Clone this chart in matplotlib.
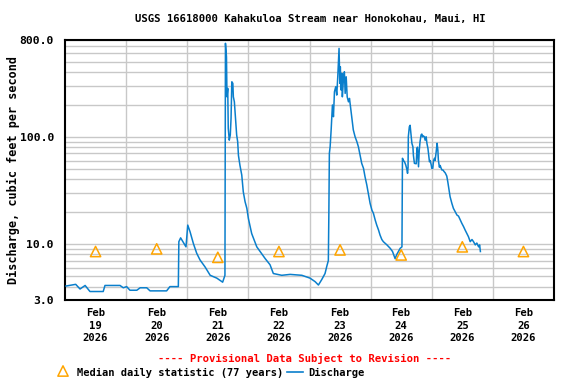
import numpy as np
import matplotlib
matplotlib.use("Agg")
import matplotlib.pyplot as plt
from matplotlib.ticker import FixedLocator, LogLocator, NullFormatter, FixedFormatter

# ---------------- data ----------------
title = "USGS 16618000 Kahakuloa Stream near Honokohau, Maui, HI"
ylabel = "Discharge, cubic feet per second"

# discharge: hours since 2026-02-19 00:00, cfs
hours = [0.4, 4.2, 5.9, 7.9, 9.8, 15.0, 15.7, 21.6, 22.9, 24.2, 25.5, 28.2, 29.5, 32.1,
         33.4, 39.9, 41.2, 43.9, 44.5, 44.7, 45.4, 47.5, 48.2, 49.1, 50.4, 51.7, 53.0,
         55.0, 57.0, 59.6, 61.9, 62.8, 63.0,
         63.4, 63.6, 63.9, 64.1, 64.5, 64.9, 65.2, 65.5, 65.9, 66.1, 66.5, 67.1, 67.4,
         67.8, 68.1, 68.7, 69.4, 70.0, 70.7, 71.4, 72.0, 72.7, 73.3, 74.0, 75.3, 76.6,
         78.6, 80.5, 81.8, 85.1, 88.4, 93.0, 96.2, 98.2, 99.5, 100.8, 102.1, 102.8, 103.4,
         103.6, 103.8, 104.1, 104.5, 105.0, 105.4, 105.8, 106.3, 106.7, 107.1, 107.4,
         107.6, 107.9, 108.1, 108.4, 108.7, 108.9, 109.3, 109.7, 110.0, 110.4, 110.8,
         111.3, 111.7, 112.1, 112.6, 113.2, 113.9, 114.6, 115.2, 115.9, 116.5, 117.2,
         117.8, 118.5, 119.1, 119.8, 120.5, 121.1, 121.8, 122.4, 123.1, 123.7, 124.4,
         125.0, 126.4, 127.7, 128.6, 129.6, 130.3, 130.9, 131.6, 132.3,
         132.5, 132.9, 133.3, 133.8, 134.2, 134.5, 134.7, 134.8, 135.2, 135.5, 135.8,
         136.2, 136.6, 136.8, 137.2, 137.9, 138.2, 138.4, 138.8, 139.1, 139.4, 139.8,
         140.1, 140.4, 140.7, 141.1, 141.4, 141.8, 142.1, 142.5, 142.7, 143.1, 143.4,
         143.8, 144.0, 144.4, 144.7, 145.1, 145.3, 145.7, 146.1, 146.4, 146.6, 147.0,
         147.3, 147.7, 148.0, 148.4, 148.8, 149.3, 149.7, 149.9, 150.3, 150.8, 151.2,
         151.9, 152.5, 153.2, 153.9, 154.5, 155.2, 155.8, 156.5, 157.1, 157.8, 158.4,
         159.1, 159.8, 160.4, 161.1, 161.7, 162.4, 162.8, 163.1]
discharge = [4.05, 4.2, 3.8, 4.1, 3.6, 3.6, 4.1, 4.1, 3.9, 4.0, 3.7, 3.7, 3.9, 3.9,
             3.65, 3.65, 4.0, 4.0, 4.0, 10.5, 11.4, 9.4, 15.0, 13.0, 10.1, 8.2, 7.1,
             6.1, 5.1, 4.8, 4.4, 5.1, 745,
             558, 236, 283, 120, 93, 104, 149, 326, 315, 236, 212, 133, 104,
             90, 67, 54, 44, 30.7, 24.8, 21.5, 17.3, 14.5, 12.5, 11.3, 9.4, 8.5,
             7.3, 6.4, 5.3, 5.1, 5.2, 5.1, 4.8, 4.45, 4.14, 4.65, 5.3, 6.2, 7.0,
             19.3, 70, 80.7, 116, 198, 154, 263, 293, 245, 363, 520,
             668, 315, 450, 273, 391, 236, 339, 404, 254, 363, 236,
             212, 228, 190, 154, 116, 100, 90, 80.7, 67, 56.5, 50.8,
             42.4, 35.5, 29.7, 23.9, 20.7, 19.3, 16.7, 15.0, 13.5, 12.1, 11.0,
             10.5, 9.8, 9.1, 8.5, 7.3, 8.0, 8.5, 9.1, 9.4,
             63, 60, 58.5, 54.5, 50, 45.6, 52, 100, 124, 128, 108,
             87, 80.7, 67, 56.5, 56, 78, 80, 52.5, 75, 90, 104,
             106, 100, 102, 100, 93, 100, 87, 78, 71, 58.5, 60,
             54.5, 50.8, 50.8, 60, 63, 60, 71, 87, 75, 60.6, 52,
             54, 50.8, 49, 49, 47.5, 46, 44, 43, 38, 31.8, 27.6,
             23.9, 21.5, 20, 18.6, 18.2, 16.7, 15.6, 14.5, 13.5, 12.5, 11.7,
             10.5, 11, 10.5, 9.8, 10.2, 9.4, 9.8, 8.5]

# median daily statistic (77 years), one per day (at noon)
median_days = [0.5, 1.5, 2.5, 3.5, 4.5, 5.5, 6.5, 7.5]
median_vals = [8.5, 9.0, 7.5, 8.5, 8.8, 7.9, 9.4, 8.5]

day_labels = ["Feb\n19\n2026", "Feb\n20\n2026", "Feb\n21\n2026", "Feb\n22\n2026",
              "Feb\n23\n2026", "Feb\n24\n2026", "Feb\n25\n2026", "Feb\n26\n2026"]
ytick_vals = [3, 10, 100, 800]
ytick_labels = ["3.0", "10.0", "100.0", "800.0"]

# ---------------- plot ----------------
FONT = "DejaVu Sans Mono"
plt.rcParams["font.family"] = FONT
plt.rcParams["font.weight"] = "bold"

fig = plt.figure(figsize=(5.76, 3.84), dpi=100)
ax = fig.add_axes([65 / 576, 84 / 384, 489 / 576, 260 / 384])

days = np.array(hours) / 24.0
line_color = "#0a7fcc"
ax.plot(days, discharge, color=line_color, lw=1.1, zorder=3)
ax.scatter(median_days, median_vals, marker="^", s=55, facecolors="none",
           edgecolors="#ffa500", linewidths=1.1, zorder=4)

ax.set_yscale("log")
ax.set_ylim(3, 800)
ax.set_xlim(0, 8)

ax.yaxis.set_major_locator(FixedLocator(ytick_vals))
ax.yaxis.set_major_formatter(FixedFormatter(ytick_labels))
ax.yaxis.set_minor_locator(LogLocator(base=10, subs=np.arange(1, 10), numticks=20))
ax.yaxis.set_minor_formatter(NullFormatter())

ax.xaxis.set_major_locator(FixedLocator(np.arange(1, 8)))
ax.xaxis.set_major_formatter(NullFormatter())
ax.xaxis.set_minor_locator(FixedLocator(median_days))
ax.xaxis.set_minor_formatter(FixedFormatter(day_labels))

ax.grid(True, which="both", axis="y", color="#c8c8c8", lw=1.0, zorder=0)
ax.grid(True, which="major", axis="x", color="#c8c8c8", lw=1.0, zorder=0)
ax.set_axisbelow(True)

ax.tick_params(axis="both", which="both", length=0)
ax.tick_params(axis="y", which="major", labelsize=8.2, pad=8)
ax.tick_params(axis="x", which="minor", labelsize=7.6, pad=6)
for lab in ax.get_xticklabels(minor=True):
    lab.set_linespacing(1.32)
    lab.set_fontweight("bold")
for lab in ax.get_yticklabels():
    lab.set_fontweight("bold")

for s in ax.spines.values():
    s.set_linewidth(1.5)
    s.set_color("black")

fig.text(310 / 576, 1 - 19 / 384, title, ha="center", va="center",
         fontsize=7.7, fontweight="bold")
fig.text(13 / 576, 1 - 170 / 384, ylabel, rotation=90, ha="center", va="center",
         fontsize=8.5, fontweight="bold")
fig.text(305 / 576, 1 - 358 / 384, "---- Provisional Data Subject to Revision ----",
         ha="center", va="center", fontsize=7.7, fontweight="bold", color="red")

# legend row
fig.text(77 / 576, 1 - 373 / 384, "Median daily statistic (77 years)",
         ha="left", va="center", fontsize=7.5, fontweight="bold")
fig.text(308 / 576, 1 - 373 / 384, "Discharge",
         ha="left", va="center", fontsize=7.5, fontweight="bold")
lax = fig.add_axes([0, 0, 1, 1], facecolor="none")
lax.set_xlim(0, 576)
lax.set_ylim(384, 0)
lax.axis("off")
lax.scatter([63], [371], marker="^", s=55, facecolors="none",
            edgecolors="#ffa500", linewidths=1.1)
lax.plot([287, 303], [372, 372], color=line_color, lw=1.2)

fig.savefig("out.png", dpi=100)
